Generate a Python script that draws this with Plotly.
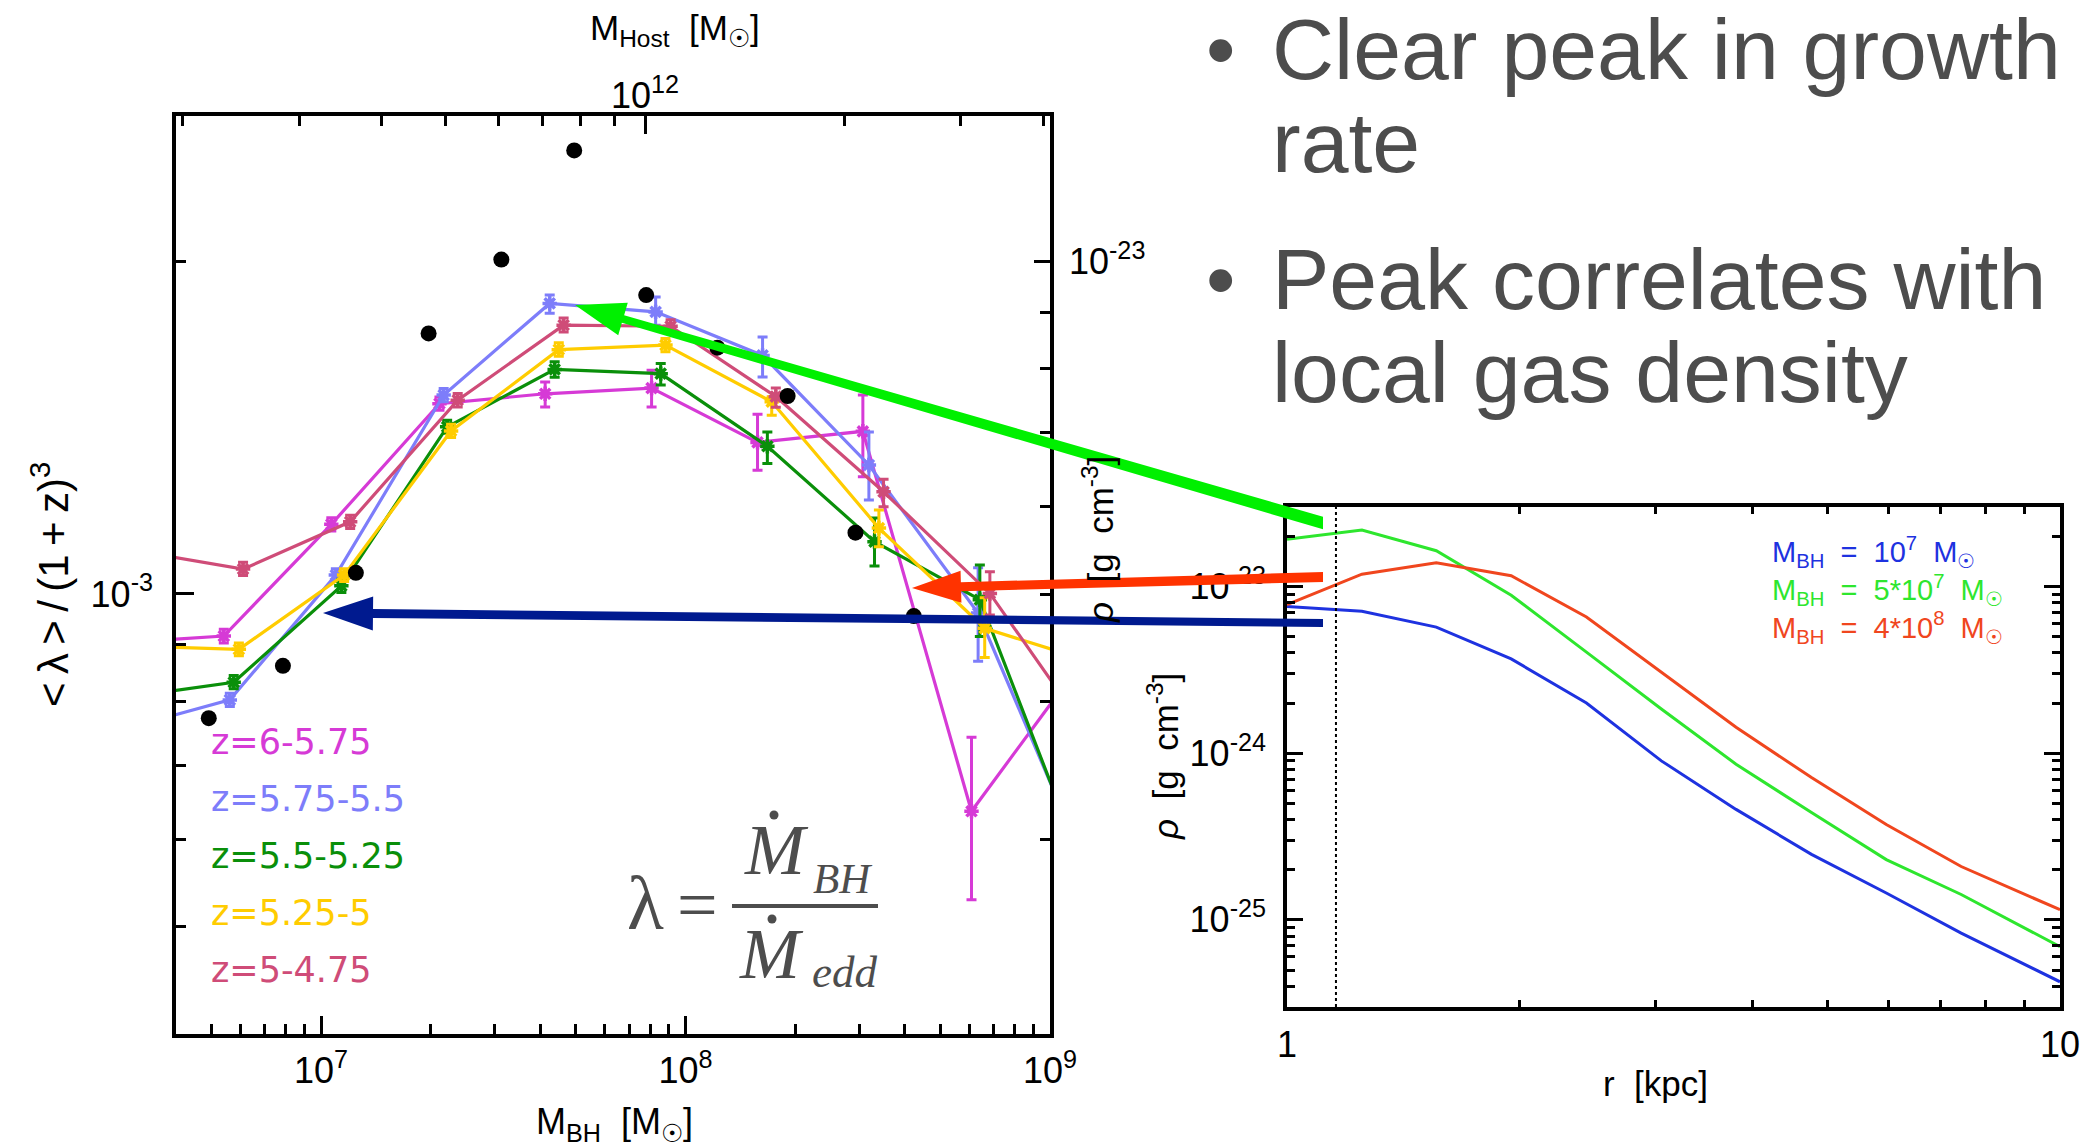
import math
import plotly.graph_objects as go

W, H = 2084, 1148

# ---------------- Left panel data ----------------
dots_mbh = [4.92e6, 7.86e6, 1.246e7, 1.973e7, 3.124e7, 4.95e7, 7.80e7, 1.223e8, 1.906e8, 2.926e8, 4.23e8]
dots_lam = [7.72e-4, 8.61e-4, 1.045e-3, 1.720e-3, 2.006e-3, 2.518e-3, 1.863e-3, 1.670e-3, 1.510e-3, 1.136e-3, 9.55e-4]

z_labels = ["z=6-5.75", "z=5.75-5.5", "z=5.5-5.25", "z=5.25-5", "z=5-4.75"]
z_colors = ["#D63AD6", "#7D7DFA", "#0A8F0A", "#FFCC00", "#CF4C78"]

mbh_z1 = [2.77e6, 5.41e6, 1.067e7, 2.113e7, 4.12e7, 8.07e7, 1.576e8, 3.066e8, 6.09e8, 1.186e9]
lam_z1 = [9.03e-4, 9.16e-4, 1.156e-3, 1.486e-3, 1.517e-3, 1.535e-3, 1.371e-3, 1.403e-3, 6.36e-4, 8.57e-4]
hi_z1 = [9.03e-4, 9.29e-4, 1.172e-3, 1.507e-3, 1.555e-3, 1.593e-3, 1.454e-3, 1.513e-3, 7.42e-4, 8.57e-4]
lo_z1 = [9.03e-4, 9.03e-4, 1.140e-3, 1.466e-3, 1.476e-3, 1.476e-3, 1.294e-3, 1.276e-3, 5.29e-4, 8.57e-4]

mbh_z2 = [2.88e6, 5.62e6, 1.098e7, 2.170e7, 4.24e7, 8.28e7, 1.627e8, 3.185e8, 6.35e8, 1.225e9]
lam_z2 = [7.55e-4, 8.02e-4, 1.040e-3, 1.513e-3, 1.831e-3, 1.799e-3, 1.643e-3, 1.308e-3, 9.61e-4, 5.78e-4]
hi_z2 = [7.55e-4, 8.13e-4, 1.054e-3, 1.534e-3, 1.863e-3, 1.856e-3, 1.707e-3, 1.401e-3, 1.056e-3, 5.78e-4]
lo_z2 = [7.55e-4, 7.91e-4, 1.026e-3, 1.492e-3, 1.794e-3, 1.750e-3, 1.571e-3, 1.216e-3, 8.69e-4, 5.78e-4]

mbh_z3 = [2.96e6, 5.76e6, 1.137e7, 2.218e7, 4.375e7, 8.55e7, 1.677e8, 3.30e8, 6.42e8, 1.247e9]
lam_z3 = [8.07e-4, 8.32e-4, 1.017e-3, 1.416e-3, 1.596e-3, 1.582e-3, 1.360e-3, 1.115e-3, 9.88e-4, 5.61e-4]
hi_z3 = [8.07e-4, 8.44e-4, 1.031e-3, 1.436e-3, 1.622e-3, 1.616e-3, 1.401e-3, 1.171e-3, 1.062e-3, 5.61e-4]
lo_z3 = [8.07e-4, 8.21e-4, 1.003e-3, 1.397e-3, 1.570e-3, 1.545e-3, 1.312e-3, 1.060e-3, 9.15e-4, 5.61e-4]

mbh_z4 = [3.05e6, 5.95e6, 1.157e7, 2.274e7, 4.49e7, 8.81e7, 1.724e8, 3.393e8, 6.62e8, 1.288e9]
lam_z4 = [8.97e-4, 8.91e-4, 1.040e-3, 1.404e-3, 1.663e-3, 1.679e-3, 1.492e-3, 1.147e-3, 9.31e-4, 8.69e-4]
hi_z4 = [8.97e-4, 9.03e-4, 1.054e-3, 1.424e-3, 1.687e-3, 1.702e-3, 1.508e-3, 1.191e-3, 9.92e-4, 8.69e-4]
lo_z4 = [8.97e-4, 8.79e-4, 1.026e-3, 1.385e-3, 1.640e-3, 1.656e-3, 1.451e-3, 1.103e-3, 8.76e-4, 8.69e-4]

mbh_z5 = [3.13e6, 6.11e6, 1.202e7, 2.371e7, 4.63e7, 9.10e7, 1.769e8, 3.494e8, 6.84e8, 1.330e9]
lam_z5 = [1.094e-3, 1.053e-3, 1.162e-3, 1.497e-3, 1.750e-3, 1.746e-3, 1.508e-3, 1.237e-3, 1.001e-3, 7.33e-4]
hi_z5 = [1.094e-3, 1.068e-3, 1.178e-3, 1.518e-3, 1.776e-3, 1.770e-3, 1.535e-3, 1.270e-3, 1.047e-3, 7.33e-4]
lo_z5 = [1.094e-3, 1.039e-3, 1.146e-3, 1.476e-3, 1.725e-3, 1.722e-3, 1.475e-3, 1.199e-3, 9.57e-4, 7.33e-4]

# ---------------- Right panel data ----------------
r_kpc = [1.0, 1.25, 1.56, 1.95, 2.44, 3.05, 3.81, 4.77, 5.96, 7.45, 10.0]
rho_1e7 = [7.60e-24, 7.10e-24, 5.71e-24, 3.68e-24, 2.00e-24, 8.99e-25, 4.60e-25, 2.47e-25, 1.45e-25, 8.32e-26, 4.25e-26]
rho_5e7 = [1.919e-23, 2.18e-23, 1.64e-23, 8.87e-24, 4.04e-24, 1.84e-24, 8.59e-25, 4.40e-25, 2.30e-25, 1.42e-25, 6.90e-26]
rho_4e8 = [7.80e-24, 1.186e-23, 1.39e-23, 1.161e-23, 6.56e-24, 3.06e-24, 1.43e-24, 7.14e-25, 3.73e-25, 2.09e-25, 1.15e-25]
SP = "\u00a0\u00a0"
rho_labels = [f"M<sub>BH</sub>{SP}={SP}10<sup>7</sup>{SP}M<sub>☉</sub>",
              f"M<sub>BH</sub>{SP}={SP}5*10<sup>7</sup>{SP}M<sub>☉</sub>",
              f"M<sub>BH</sub>{SP}={SP}4*10<sup>8</sup>{SP}M<sub>☉</sub>"]
rho_colors = ["#1E32E0", "#2EE62E", "#F0461E"]
r_softening = 1.157

bullets = [["Clear peak in growth", "rate"], ["Peak correlates with", "local gas density"]]

# ---------------- helpers ----------------
def px(x):
    return x / W


def py(y):
    return 1 - y / H


SANS = "Liberation Sans, Arial, Helvetica, sans-serif"
SERIF = "Liberation Serif, Times New Roman, serif"
GRAY = "#4d4d4d"
TS = "\u2009"

fig = go.Figure()

series = [
    (mbh_z1, lam_z1, hi_z1, lo_z1),
    (mbh_z2, lam_z2, hi_z2, lo_z2),
    (mbh_z3, lam_z3, hi_z3, lo_z3),
    (mbh_z4, lam_z4, hi_z4, lo_z4),
    (mbh_z5, lam_z5, hi_z5, lo_z5),
]
for (m, lam, hi, lo), c in zip(series, z_colors):
    fig.add_trace(go.Scatter(
        x=m, y=lam, mode="lines+markers", xaxis="x", yaxis="y",
        line=dict(color=c, width=3.2),
        marker=dict(symbol="asterisk-open", size=12, color=c, line=dict(color=c, width=3.5)),
        error_y=dict(type="data", symmetric=False,
                     array=[h - v for h, v in zip(hi, lam)],
                     arrayminus=[v - w for v, w in zip(lam, lo)],
                     color=c, thickness=3, width=5),
        showlegend=False, hoverinfo="skip", cliponaxis=True))

fig.add_trace(go.Scatter(x=dots_mbh, y=dots_lam, mode="markers", xaxis="x", yaxis="y",
                         marker=dict(symbol="circle", size=16, color="black"),
                         showlegend=False, hoverinfo="skip"))

# dummy traces to register overlay axes
fig.add_trace(go.Scatter(x=[1e12], y=[1e-3], xaxis="x2", yaxis="y", mode="markers",
                         marker=dict(opacity=0), showlegend=False, hoverinfo="skip"))
fig.add_trace(go.Scatter(x=[1e8], y=[1e-23], xaxis="x", yaxis="y2", mode="markers",
                         marker=dict(opacity=0), showlegend=False, hoverinfo="skip"))

# right panel
for rho, c in zip([rho_1e7, rho_5e7, rho_4e8], rho_colors):
    fig.add_trace(go.Scatter(x=r_kpc, y=rho, mode="lines", xaxis="x3", yaxis="y3",
                             line=dict(color=c, width=3), showlegend=False, hoverinfo="skip"))
fig.add_trace(go.Scatter(x=[r_softening, r_softening], y=[3e-26, 3e-23], mode="lines",
                         xaxis="x3", yaxis="y3", line=dict(color="black", width=2, dash="dot"),
                         showlegend=False, hoverinfo="skip"))

tickfont = dict(family=SANS, size=36, color="black")
common = dict(showgrid=False, zeroline=False, showline=True, linecolor="black", linewidth=3.5,
              ticks="inside", tickcolor="black", tickwidth=3, tickfont=tickfont, tickmode="array")


def minor(vals, ln):
    return dict(tickmode="array", tickvals=vals, ticks="inside", ticklen=ln, tickwidth=3,
                tickcolor="black", showgrid=False)


x_minor = [k * 1e6 for k in range(5, 10)] + [k * 1e7 for k in range(2, 10)] + [k * 1e8 for k in range(2, 10)]
y_minor = [k * 1e-4 for k in range(5, 10)] + [2e-3]
top_minor = [k * 1e11 for k in range(2, 10)] + [k * 1e12 for k in range(2, 5)]
rho_minor = [k * 1e-24 for k in range(3, 10)]

LX0, LX1, LY0, LY1 = 176, 1050, 116, 1034
RX0, RX1, RY0, RY1 = 1287, 2060, 507, 1007

fig.update_layout(
    width=W, height=H, margin=dict(l=0, r=0, t=0, b=0, autoexpand=False),
    paper_bgcolor="white", plot_bgcolor="white", showlegend=False,
    xaxis=dict(type="log", range=[math.log10(4e6), 9], domain=[px(LX0), px(LX1)], anchor="y",
               tickvals=[1e7, 1e8, 1e9], ticktext=["10<sup>7</sup>", "10<sup>8</sup>", "10<sup>9</sup>"],
               ticklen=18, minor=minor(x_minor, 10), ticklabelstandoff=2, **common),
    yaxis=dict(type="log", range=[math.log10(4e-4), math.log10(2.705e-3)], domain=[py(LY1), py(LY0)],
               anchor="x", tickvals=[1e-3], ticktext=["10<sup>-3</sup>"], ticklen=18,
               minor=minor(y_minor, 10), ticklabelstandoff=12, **common),
    xaxis2=dict(type="log", range=[11.291, 12.612], overlaying="x", side="top", anchor="y",
                tickvals=[1e12], ticktext=["10<sup>12</sup>"], ticklen=18,
                minor=minor(top_minor, 10), ticklabelstandoff=-10, **common),
    yaxis2=dict(type="log", range=[math.log10(2e-24), math.log10(1.355e-23)], overlaying="y",
                side="right", anchor="x", tickvals=[1e-23], ticktext=["10<sup>-23</sup>"], ticklen=16,
                minor=minor(rho_minor, 10), ticklabelstandoff=8, **common),
    xaxis3=dict(type="log", range=[0, 1], domain=[px(RX0), px(RX1)], anchor="y3",
                tickvals=[1, 10], ticktext=["1", "10"], ticklen=12, mirror="allticks",
                minor=minor([2, 3, 4, 5, 6, 7, 8, 9], 7), ticklabelstandoff=3, **common),
    yaxis3=dict(type="log", range=[math.log10(3e-26), math.log10(3e-23)], domain=[py(RY1), py(RY0)],
                anchor="x3", tickvals=[1e-23, 1e-24, 1e-25],
                ticktext=["10<sup>-23</sup>", "10<sup>-24</sup>", "10<sup>-25</sup>"], ticklen=16,
                mirror="allticks",
                minor=minor([k * 1e-26 for k in range(3, 10)] + [k * 1e-25 for k in range(2, 10)]
                            + [k * 1e-24 for k in range(2, 10)] + [2e-23, 3e-23], 8),
                ticklabelstandoff=10, **common),
)

ann = []


def text(x, y, s, size, color="black", family=SANS, xa="center", ya="middle", angle=0, align="center"):
    ann.append(dict(x=px(x), y=py(y), xref="paper", yref="paper", text=s, showarrow=False,
                    xanchor=xa, yanchor=ya, textangle=angle, align=align,
                    font=dict(family=family, size=size, color=color)))


# left panel titles
text(675, 30, "M<sub>Host</sub>\u00a0 [M<sub>☉</sub>]", 35)
text(614, 1124, "M<sub>BH</sub>\u00a0 [M<sub>☉</sub>]", 36)
text(50, 585, "&lt;" + TS + "λ" + TS + "&gt;" + TS + "/" + TS + "(1" + TS + "+" + TS + "z)<sup>3</sup>", 42, angle=-90)
text(1098, 540, "<i>ρ</i>\u00a0 [g\u00a0 cm<sup>-3</sup>]", 35, angle=-90)

# redshift legend
for i, (lab, c) in enumerate(zip(z_labels, z_colors)):
    text(209, 742 + 57 * i, lab, 35, color=c, family="DejaVu Sans, sans-serif", xa="left")

# lambda definition
text(645, 903, "λ", 76, color=GRAY, family=SERIF)
text(697, 905, "=", 72, color=GRAY, family=SERIF)
text(776, 850, "<i>M</i>", 72, color=GRAY, family=SERIF)
text(842, 878, "<i>BH</i>", 43, color=GRAY, family=SERIF)
text(771, 954, "<i>M</i>", 72, color=GRAY, family=SERIF)
text(844, 972, "<i>edd</i>", 45, color=GRAY, family=SERIF)

# right panel
text(1163, 757, "<i>ρ</i>\u00a0 [g\u00a0 cm<sup>-3</sup>]", 35, angle=-90)
text(1655, 1083, "r\u00a0 [kpc]", 35)
legend_html = "<br>".join(f"<span style='color:{c}'>{lab}</span>" for lab, c in zip(rho_labels, rho_colors))
text(1770, 590, legend_html, 29, color=rho_colors[0], xa="left", align="left")

# bullets
for (l1, l2), yb in zip(bullets, [49, 279]):
    text(1220, yb, "•", 84, color=GRAY)
    text(1270, yb, l1, 86, color=GRAY, xa="left")
    text(1270, yb + 93, l2, 86, color=GRAY, xa="left")

fig.update_layout(annotations=ann)

shapes = []


def arrow(tail, tip, w_tail, w_base, head_len, head_half, color):
    (x0, y0), (x1, y1) = tail, tip
    dx, dy = x0 - x1, y0 - y1
    L = math.hypot(dx, dy)
    ux, uy = dx / L, dy / L
    nx, ny = -uy, ux
    bx, by = x1 + ux * head_len, y1 + uy * head_len
    hv = (w_tail / 2) / abs(ux)
    pts = [(x1, y1),
           (bx + nx * head_half, by + ny * head_half),
           (bx + nx * w_base / 2, by + ny * w_base / 2),
           (x0, y0 + hv),
           (x0, y0 - hv),
           (bx - nx * w_base / 2, by - ny * w_base / 2),
           (bx - nx * head_half, by - ny * head_half)]
    path = "M " + " L ".join(f"{px(x):.5f},{py(y):.5f}" for x, y in pts) + " Z"
    shapes.append(dict(type="path", path=path, xref="paper", yref="paper", fillcolor=color,
                       line=dict(width=0), layer="above"))


arrow((1323, 523), (575, 305), 12, 8, 50, 17, "#00F000")
arrow((1323, 577), (912, 588), 10, 9, 49, 16, "#FF3300")
arrow((1323, 623), (323, 613), 8, 9, 50, 17, "#001A8F")

# fraction bar and dots of lambda definition
shapes.append(dict(type="line", xref="paper", yref="paper", x0=px(732), x1=px(878), y0=py(906), y1=py(906),
                   line=dict(color=GRAY, width=4), layer="above"))
for cx, cy in [(774, 815), (772, 919)]:
    shapes.append(dict(type="circle", xref="paper", yref="paper", x0=px(cx - 4.5), x1=px(cx + 4.5),
                       y0=py(cy + 4.5), y1=py(cy - 4.5), fillcolor=GRAY, line=dict(width=0), layer="above"))

fig.update_layout(shapes=shapes)

fig.write_html("out.html", config={"displayModeBar": False},
               post_script="document.body.style.margin='0';document.body.style.padding='0';"
                           "document.documentElement.style.overflow='hidden';")
